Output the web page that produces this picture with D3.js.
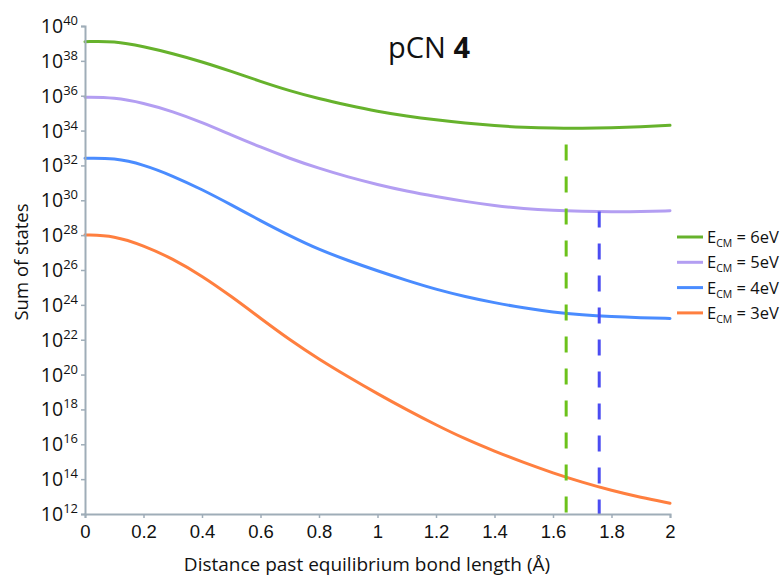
<!DOCTYPE html>
<html>
<head>
<meta charset="utf-8">
<script src="https://cdn.jsdelivr.net/npm/d3@7"></script>
<style>
  html, body { margin: 0; padding: 0; background: #fff; }
  svg { display: block; font-family: "Open Sans", "Noto Sans", sans-serif; }
</style>
</head>
<body>
<svg id="chart" width="780" height="578"></svg>
<script>
// Distance past equilibrium bond length (Å)
const distance = [0, 0.1, 0.2, 0.3, 0.4, 0.5, 0.6, 0.7, 0.8, 0.9, 1.0,
                  1.1, 1.2, 1.3, 1.4, 1.5, 1.6, 1.7, 1.8, 1.9, 2.0];

// log10 of the sum of states for each collision energy
const logE6 = [39.10, 39.14, 38.82, 38.42, 37.95, 37.40, 36.82, 36.28, 35.83, 35.45, 35.10,
               34.83, 34.61, 34.42, 34.28, 34.19, 34.14, 34.13, 34.16, 34.22, 34.30];
const logE5 = [35.91, 35.90, 35.58, 35.10, 34.47, 33.75, 33.05, 32.40, 31.83, 31.33, 30.90,
               30.52, 30.21, 29.93, 29.69, 29.52, 29.42, 29.37, 29.34, 29.35, 29.40];
const logE4 = [32.41, 32.43, 32.05, 31.40, 30.62, 29.74, 28.83, 27.96, 27.17, 26.54, 25.95,
               25.40, 24.89, 24.47, 24.12, 23.82, 23.58, 23.42, 23.32, 23.26, 23.22];
const logE3 = [28.01, 27.97, 27.40, 26.65, 25.66, 24.49, 23.23, 21.99, 20.88, 19.87, 18.90,
               17.98, 17.11, 16.30, 15.60, 14.95, 14.35, 13.82, 13.35, 12.95, 12.62];

const seriesNames = ["6eV", "5eV", "4eV", "3eV"];
const seriesColors = ["#66b22c", "#b39ef2", "#4a8cff", "#ff7f3f"];
const seriesLogs = [logE6, logE5, logE4, logE3];

// Vertical markers: position (Å) and the exponent where each dashed line starts
const markerX = [1.645, 1.758];
const markerTopLog = [33.2, 29.35];
const markerColors = ["#6cc21b", "#4b4cf2"];

const xTicks = [0, 0.2, 0.4, 0.6, 0.8, 1, 1.2, 1.4, 1.6, 1.8, 2];
const yTickExps = [12, 14, 16, 18, 20, 22, 24, 26, 28, 30, 32, 34, 36, 38, 40];

const svg = d3.select("#chart");
const plot = { left: 85, right: 670, top: 26, bottom: 514 };
const axisColor = "#9fadb8";

const x = d3.scaleLinear().domain([0, 2]).range([plot.left, plot.right]);
const y = d3.scaleLog().domain([1e12, 1e40]).range([plot.bottom, plot.top]);

// Curves
const line = d3.line()
  .x(d => x(d[0]))
  .y(d => y(Math.pow(10, d[1])))
  .curve(d3.curveBasis);

seriesLogs.forEach((vals, i) => {
  svg.append("path")
    .datum(distance.map((d, k) => [d, vals[k]]))
    .attr("d", line)
    .attr("fill", "none")
    .attr("stroke", seriesColors[i])
    .attr("stroke-width", 3)
    .attr("stroke-linecap", "round");
});

// Dashed markers
markerX.forEach((mx, i) => {
  svg.append("line")
    .attr("x1", x(mx)).attr("x2", x(mx))
    .attr("y1", y(Math.pow(10, markerTopLog[i])))
    .attr("y2", y(1e12))
    .attr("stroke", markerColors[i])
    .attr("stroke-width", 3)
    .attr("stroke-dasharray", "16,16");
});

// Axes
const xAxis = d3.axisBottom(x).tickValues(xTicks).tickSize(4).tickFormat(d3.format("~g"));
const gx = svg.append("g").attr("transform", `translate(0,${plot.bottom})`).call(xAxis);
gx.select(".domain").attr("stroke", axisColor).attr("stroke-width", 2);
gx.selectAll(".tick line").attr("stroke", axisColor).attr("stroke-width", 1.5);
gx.selectAll(".tick text")
  .attr("fill", "#111")
  .attr("font-size", 18.5)
  .attr("dy", null)
  .attr("y", 24);

const yAxis = d3.axisLeft(y).tickValues(yTickExps.map(e => Math.pow(10, e))).tickSize(4).tickFormat("");
const gy = svg.append("g").attr("transform", `translate(${plot.left},0)`).call(yAxis);
gy.select(".domain").attr("stroke", axisColor).attr("stroke-width", 2);
gy.selectAll(".tick line").attr("stroke", axisColor).attr("stroke-width", 1.5);

// Power-of-ten tick labels
yTickExps.forEach(e => {
  const t = svg.append("text")
    .attr("x", 78)
    .attr("y", y(Math.pow(10, e)) + 7)
    .attr("text-anchor", "end")
    .attr("fill", "#111")
    .attr("font-size", 19.5);
  t.append("tspan").text("10");
  t.append("tspan").attr("font-size", 13).attr("dy", -8).text(e);
});

// Axis titles
svg.append("text")
  .attr("x", 367).attr("y", 571)
  .attr("text-anchor", "middle")
  .attr("font-size", 19)
  .attr("fill", "#111")
  .text("Distance past equilibrium bond length (Å)");

svg.append("text")
  .attr("transform", "translate(28,262) rotate(-90)")
  .attr("text-anchor", "middle")
  .attr("font-size", 18.5)
  .attr("fill", "#111")
  .text("Sum of states");

// Title
const title = svg.append("text")
  .attr("x", 388).attr("y", 58)
  .attr("font-size", 29)
  .attr("fill", "#111");
title.append("tspan").text("pCN ");
title.append("tspan").attr("font-weight", "bold").text("4");

// Legend
const legend = svg.append("g");
seriesNames.forEach((name, i) => {
  const ly = 237 + i * 25.3;
  legend.append("line")
    .attr("x1", 677).attr("x2", 703)
    .attr("y1", ly).attr("y2", ly)
    .attr("stroke", seriesColors[i])
    .attr("stroke-width", 3);
  const t = legend.append("text")
    .attr("x", 707).attr("y", ly + 6)
    .attr("font-size", 16.5)
    .attr("fill", "#111");
  t.append("tspan").text("E");
  t.append("tspan").attr("font-size", 10.5).attr("dy", 4).text("CM");
  t.append("tspan").attr("dy", -4).text(" = " + name);
});
</script>
</body>
</html>
